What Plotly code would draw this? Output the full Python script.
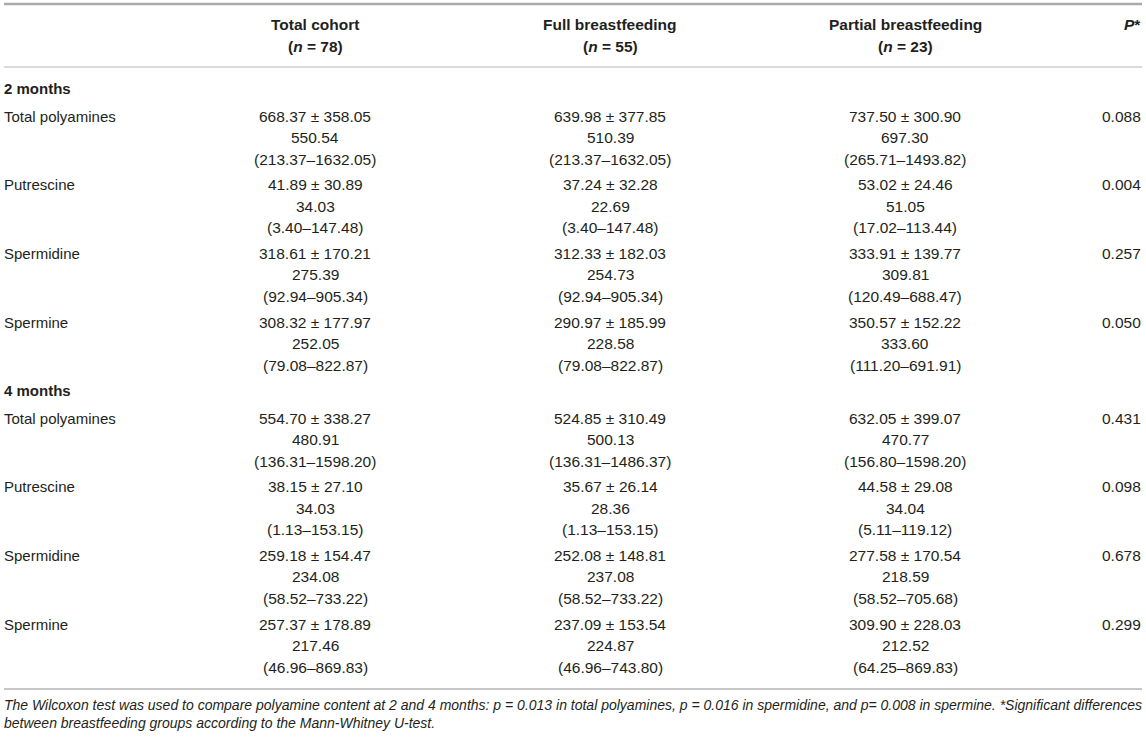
# Polyamine content table (2 and 4 months) drawn with plotly annotations

import plotly.graph_objects as go

# --------------------------------------
# Data
# --------------------------------------

months = ["2 months", "4 months"]
compounds = ["Total polyamines", "Putrescine", "Spermidine", "Spermine"]

group_names = ["Total cohort", "Full breastfeeding", "Partial breastfeeding"]
group_n = [78, 55, 23]

# rows: 2 months (4 compounds) then 4 months (4 compounds)
total_mean = [668.37, 41.89, 318.61, 308.32, 554.70, 38.15, 259.18, 257.37]
total_sd = [358.05, 30.89, 170.21, 177.97, 338.27, 27.10, 154.47, 178.89]
total_median = [550.54, 34.03, 275.39, 252.05, 480.91, 34.03, 234.08, 217.46]
total_min = [213.37, 3.40, 92.94, 79.08, 136.31, 1.13, 58.52, 46.96]
total_max = [1632.05, 147.48, 905.34, 822.87, 1598.20, 153.15, 733.22, 869.83]

full_mean = [639.98, 37.24, 312.33, 290.97, 524.85, 35.67, 252.08, 237.09]
full_sd = [377.85, 32.28, 182.03, 185.99, 310.49, 26.14, 148.81, 153.54]
full_median = [510.39, 22.69, 254.73, 228.58, 500.13, 28.36, 237.08, 224.87]
full_min = [213.37, 3.40, 92.94, 79.08, 136.31, 1.13, 58.52, 46.96]
full_max = [1632.05, 147.48, 905.34, 822.87, 1486.37, 153.15, 733.22, 743.80]

partial_mean = [737.50, 53.02, 333.91, 350.57, 632.05, 44.58, 277.58, 309.90]
partial_sd = [300.90, 24.46, 139.77, 152.22, 399.07, 29.08, 170.54, 228.03]
partial_median = [697.30, 51.05, 309.81, 333.60, 470.77, 34.04, 218.59, 212.52]
partial_min = [265.71, 17.02, 120.49, 111.20, 156.80, 5.11, 58.52, 64.25]
partial_max = [1493.82, 113.44, 688.47, 691.91, 1598.20, 119.12, 705.68, 869.83]

p_values = ["0.088", "0.004", "0.257", "0.050", "0.431", "0.098", "0.678", "0.299"]

footnote = (
    "The Wilcoxon test was used to compare polyamine content at 2 and 4 months: "
    "p = 0.013 in total polyamines, p = 0.016 in spermidine, and "
    "p= 0.008 in spermine. *Significant differences<br>"
    "between breastfeeding groups according to the Mann-Whitney U-test."
)

groups = [
    (total_mean, total_sd, total_median, total_min, total_max),
    (full_mean, full_sd, full_median, full_min, full_max),
    (partial_mean, partial_sd, partial_median, partial_min, partial_max),
]

# --------------------------------------
# Layout (pixel-like axes)
# --------------------------------------

W, H = 1146, 738
FONT = "Liberation Sans, Arial, sans-serif"
TXT = "#231f20"
LINE = "#b5b5b5"

col_x = [315, 610, 905]
p_x = 1142
left_x = 3
header_y = [24, 46]
month_y = [88, 390]
first_gap = 28
block_step = 68.7
line_step = 21.5

annotations = []


def add_text(x, y, text, anchor="center", size=15.5, color=TXT):
    annotations.append(dict(
        x=x, y=y, xref="x", yref="y", text=text, showarrow=False,
        xanchor=anchor, yanchor="middle",
        font=dict(family=FONT, size=size, color=color),
        borderpad=0,
    ))


# header
for name, n, cx in zip(group_names, group_n, col_x):
    add_text(cx, header_y[0], "<b>%s</b>" % name)
    add_text(cx, header_y[1], "<b>(<i>n</i> = %d)</b>" % n)
add_text(p_x, header_y[0], "<b><i>P</i>*</b>", anchor="right")

# body
for m, month in enumerate(months):
    add_text(left_x, month_y[m], "<b>%s</b>" % month, anchor="left", size=15)
    for c, comp in enumerate(compounds):
        r = m * len(compounds) + c
        y0 = month_y[m] + first_gap + c * block_step
        add_text(left_x, y0, comp, anchor="left", size=15)
        for (mean, sd, med, lo, hi), cx in zip(groups, col_x):
            add_text(cx, y0, "%.2f ± %.2f" % (mean[r], sd[r]))
            add_text(cx, y0 + line_step, "%.2f" % med[r])
            add_text(cx, y0 + 2 * line_step, "(%.2f–%.2f)" % (lo[r], hi[r]))
        add_text(p_x, y0, p_values[r], anchor="right")

# footnote
annotations.append(dict(
    x=left_x, y=696, xref="x", yref="y", text="<i>%s</i>" % footnote,
    showarrow=False, xanchor="left", yanchor="top", align="left",
    font=dict(family=FONT, size=14, color=TXT), borderpad=0,
))

shapes = [
    dict(type="line", xref="x", yref="y", x0=4, x1=1142, y0=4, y1=4,
         line=dict(color="#aaaaaa", width=2.5)),
    dict(type="line", xref="x", yref="y", x0=4, x1=1142, y0=67, y1=67,
         line=dict(color=LINE, width=1.2)),
    dict(type="line", xref="x", yref="y", x0=4, x1=1142, y0=689, y1=689,
         line=dict(color=LINE, width=1.5)),
]

fig = go.Figure()

fig.update_layout(
    width=W,
    height=H,
    margin=dict(l=0, r=0, t=0, b=0),
    paper_bgcolor="white",
    plot_bgcolor="white",
    xaxis=dict(range=[0, W], visible=False, fixedrange=True),
    yaxis=dict(range=[H, 0], visible=False, fixedrange=True),
    annotations=annotations,
    shapes=shapes,
    showlegend=False,
)

# page body margin would push the 1146px figure off the window
fig.write_html("out.html", config={"displayModeBar": False},
               post_script="document.body.style.margin='0';")
